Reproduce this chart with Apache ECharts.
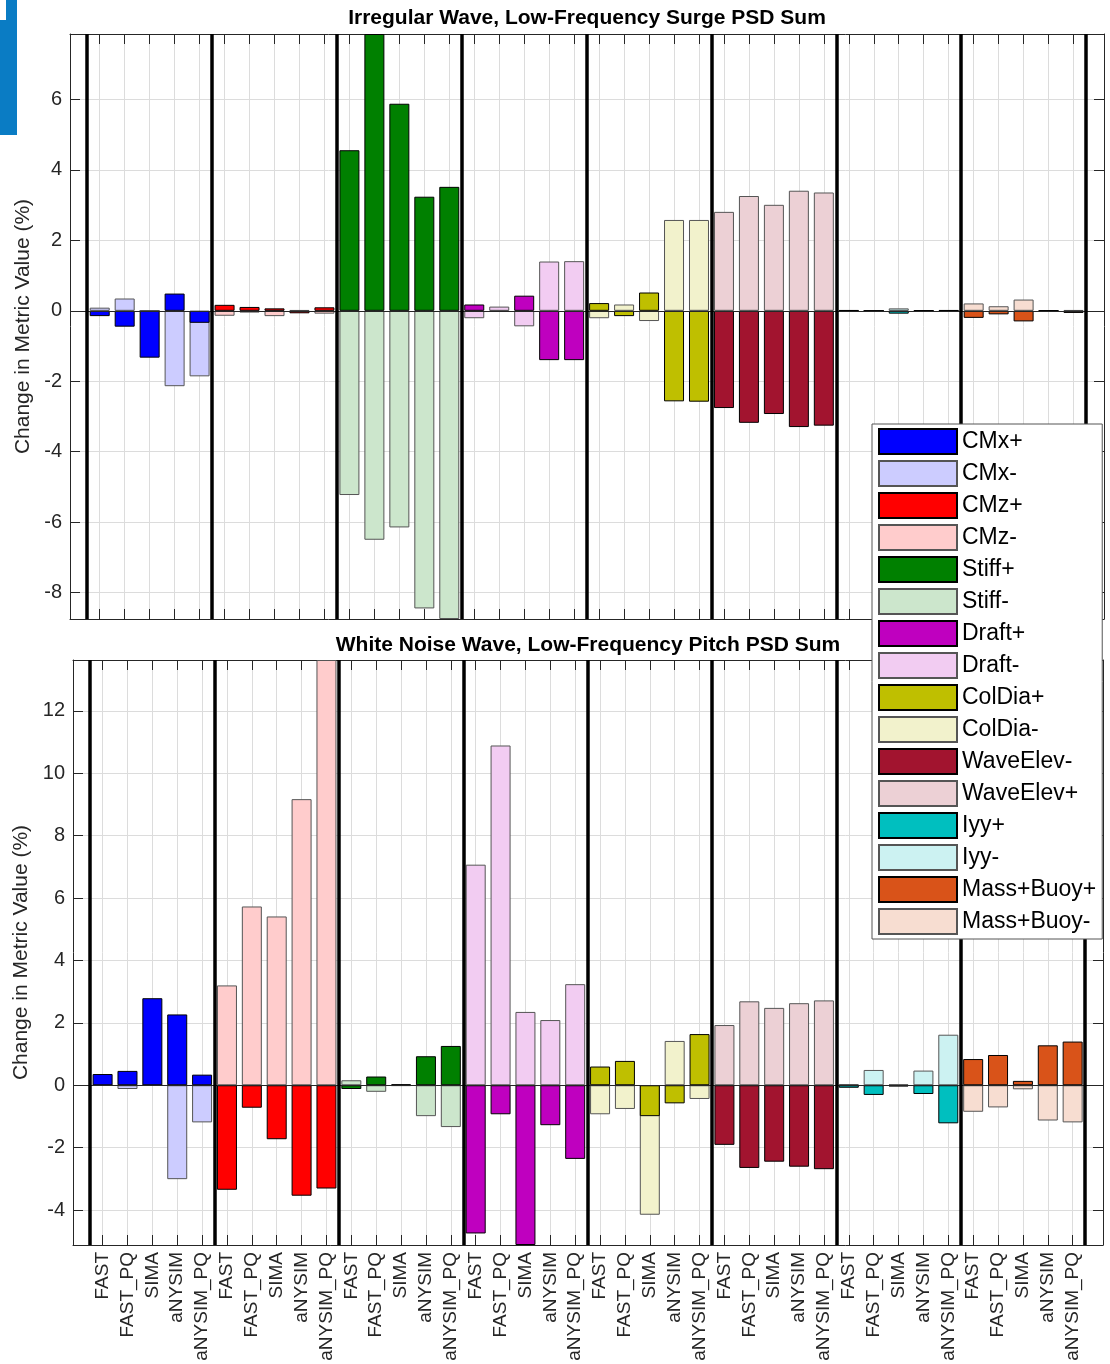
<!DOCTYPE html>
<html>
<head>
<meta charset="utf-8">
<script src="https://cdn.jsdelivr.net/npm/echarts@6/dist/echarts.min.js"></script>
<style>html,body{margin:0;padding:0;background:#fff}#c{width:1110px;height:1364px}</style>
</head>
<body>
<div id="c"></div>
<script>
// ---------- categories ----------
const tools = ['FAST', 'FAST_PQ', 'SIMA', 'aNYSIM', 'aNYSIM_PQ'];
const groups = ['CMx', 'CMz', 'Stiff', 'Draft', 'ColDia', 'WaveElev', 'Iyy', 'Mass+Buoy'];
const solidNames = ['CMx+', 'CMz+', 'Stiff+', 'Draft+', 'ColDia+', 'WaveElev-', 'Iyy+', 'Mass+Buoy+'];
const lightNames = ['CMx-', 'CMz-', 'Stiff-', 'Draft-', 'ColDia-', 'WaveElev+', 'Iyy-', 'Mass+Buoy-'];
const solidColors = ['#0000ff', '#ff0000', '#008000', '#bf00bf', '#bfbf00', '#a2142f', '#00bfbf', '#d95319'];
const lightColors = ['#ccccff', '#ffcccc', '#cce6cc', '#f2ccf2', '#f2f2cc', '#ecd0d5', '#ccf2f2', '#f7ddd1'];

// ---------- tick labels ----------
const surgeYTicks = [-8, -6, -4, -2, 0, 2, 4, 6];
const pitchYTicks = [-4, -2, 0, 2, 4, 6, 8, 10, 12];
const surgeYRange = [-8.75, 7.86];
const pitchYRange = [-5.12, 13.63];
const xRange = [-0.19, 41.22];

// ---------- top panel: Irregular Wave, Low-Frequency Surge PSD Sum ----------
const surgeCMxPlus       = [-0.15, -0.45, -1.33,  0.49, -0.34];
const surgeCMxMinus      = [ 0.09,  0.35,  0.00, -2.14, -1.86];
const surgeCMzPlus       = [ 0.17,  0.11,  0.07, -0.07,  0.10];
const surgeCMzMinus      = [-0.14, -0.05, -0.15,  0.02, -0.08];
const surgeStiffPlus     = [ 4.56,  7.86,  5.88,  3.24,  3.52];
const surgeStiffMinus    = [-5.23, -6.50, -6.15, -8.45, -8.75];
const surgeDraftPlus     = [ 0.18, -0.03,  0.43, -1.40, -1.40];
const surgeDraftMinus    = [-0.21,  0.12, -0.44,  1.40,  1.41];
const surgeColDiaPlus    = [ 0.22, -0.15,  0.52, -2.57, -2.58];
const surgeColDiaMinus   = [-0.21,  0.18, -0.29,  2.58,  2.58];
const surgeWaveElevMinus = [-2.76, -3.18, -2.93, -3.30, -3.26];
const surgeWaveElevPlus  = [ 2.81,  3.26,  3.01,  3.41,  3.36];
const surgeIyyPlus       = [ 0.02,  0.00, -0.08,  0.01,  0.02];
const surgeIyyMinus      = [-0.01,  0.00,  0.07, -0.01,  0.01];
const surgeMassBuoyPlus  = [-0.20, -0.10, -0.30,  0.01, -0.06];
const surgeMassBuoyMinus = [ 0.21,  0.13,  0.32, -0.01,  0.02];

// ---------- bottom panel: White Noise Wave, Low-Frequency Pitch PSD Sum ----------
const pitchCMxPlus       = [ 0.36,  0.46,  2.79,  2.27,  0.34];
const pitchCMxMinus      = [ 0.00, -0.12,  0.00, -3.01, -1.19];
const pitchCMzPlus       = [-3.35, -0.72, -1.73, -3.54, -3.31];
const pitchCMzMinus      = [ 3.20,  5.73,  5.41,  9.17, 13.63];
const pitchStiffPlus     = [-0.12,  0.28,  0.03,  0.93,  1.26];
const pitchStiffMinus    = [ 0.16, -0.21, -0.02, -0.99, -1.34];
const pitchDraftPlus     = [-4.75, -0.93, -5.12, -1.28, -2.36];
const pitchDraftMinus    = [ 7.07, 10.89,  2.35,  2.09,  3.24];
const pitchColDiaPlus    = [ 0.60,  0.78, -0.99, -0.58,  1.64];
const pitchColDiaMinus   = [-0.93, -0.76, -4.15,  1.42, -0.44];
const pitchWaveElevMinus = [-1.91, -2.65, -2.45, -2.61, -2.69];
const pitchWaveElevPlus  = [ 1.93,  2.69,  2.48,  2.63,  2.72];
const pitchIyyPlus       = [-0.08, -0.31, -0.04, -0.28, -1.22];
const pitchIyyMinus      = [ 0.04,  0.49,  0.03,  0.47,  1.62];
const pitchMassBuoyPlus  = [ 0.84,  0.97,  0.14,  1.28,  1.40];
const pitchMassBuoyMinus = [-0.85, -0.71, -0.13, -1.13, -1.19];

const surgeSolid = [surgeCMxPlus, surgeCMzPlus, surgeStiffPlus, surgeDraftPlus, surgeColDiaPlus, surgeWaveElevMinus, surgeIyyPlus, surgeMassBuoyPlus];
const surgeLight = [surgeCMxMinus, surgeCMzMinus, surgeStiffMinus, surgeDraftMinus, surgeColDiaMinus, surgeWaveElevPlus, surgeIyyMinus, surgeMassBuoyMinus];
const pitchSolid = [pitchCMxPlus, pitchCMzPlus, pitchStiffPlus, pitchDraftPlus, pitchColDiaPlus, pitchWaveElevMinus, pitchIyyPlus, pitchMassBuoyPlus];
const pitchLight = [pitchCMxMinus, pitchCMzMinus, pitchStiffMinus, pitchDraftMinus, pitchColDiaMinus, pitchWaveElevPlus, pitchIyyMinus, pitchMassBuoyMinus];

const legendOrder = [];
solidNames.forEach((n, i) => { legendOrder.push(n, lightNames[i]); });

// ---------- derived positions ----------
const catPositions = [];
groups.forEach((g, gi) => tools.forEach((t, ti) => catPositions.push(gi * tools.length + ti + 1)));
const separators = groups.map((g, gi) => gi * tools.length + 0.5).concat([groups.length * tools.length + 0.5]);

const FONT = '"Liberation Sans", Arial, Helvetica, sans-serif';
const AX = '#262626';

function xAx(gridIndex, position, showLabels) {
  return {
    type: 'value', gridIndex, position, min: xRange[0], max: xRange[1],
    axisLine: { show: true, onZero: false, lineStyle: { color: AX, width: 1 } },
    axisTick: { show: true, inside: true, length: 10, customValues: catPositions, lineStyle: { color: AX, width: 1 } },
    axisLabel: {
      show: showLabels, customValues: catPositions, rotate: 90, margin: 7,
      formatter: v => tools[(Math.round(v) - 1) % tools.length],
      fontSize: 19, color: AX, fontFamily: FONT
    },
    splitLine: { show: position === 'bottom', lineStyle: { color: '#dcdcdc', width: 1 } }
  };
}
function yAx(gridIndex, position, range, ticks, nameGap) {
  const left = position === 'left';
  return {
    type: 'value', gridIndex, position, min: range[0], max: range[1],
    name: left ? 'Change in Metric Value (%)' : '', nameLocation: 'middle', nameRotate: 90, nameGap,
    nameTextStyle: { fontSize: 21, color: AX, fontFamily: FONT },
    axisLine: { show: true, onZero: false, lineStyle: { color: AX, width: 1 } },
    axisTick: { show: true, inside: true, length: 10, customValues: ticks, lineStyle: { color: AX, width: 1 } },
    axisLabel: { show: left, customValues: ticks, margin: 8, fontSize: 20, color: AX, fontFamily: FONT },
    splitLine: { show: left, lineStyle: { color: '#dcdcdc', width: 1 } }
  };
}

function panelSeries(xi, yi, solid, light) {
  const out = [];
  light.forEach((arr, g) => {
    out.push({
      type: 'bar', name: lightNames[g], xAxisIndex: xi, yAxisIndex: yi,
      barWidth: 20, barGap: '-100%', z: 2, animation: false,
      itemStyle: { color: lightColors[g], borderColor: '#555', borderWidth: 1 },
      data: arr.map((v, i) => [g * tools.length + i + 1, v])
    });
  });
  solid.forEach((arr, g) => {
    out.push({
      type: 'bar', name: solidNames[g], xAxisIndex: xi, yAxisIndex: yi,
      barWidth: 20, barGap: '-100%', z: 3, animation: false,
      itemStyle: { color: solidColors[g], borderColor: '#000', borderWidth: 1 },
      data: arr.map((v, i) => [g * tools.length + i + 1, v])
    });
  });
  out.push({
    type: 'line', xAxisIndex: xi, yAxisIndex: yi, data: [], z: 5, silent: true, animation: false,
    markLine: {
      symbol: 'none', silent: true, animation: false, label: { show: false },
      data: [{ yAxis: 0, lineStyle: { color: AX, width: 1.2, type: 'solid' } }].concat(
        separators.map(s => ({ xAxis: s, lineStyle: { color: '#000', width: 3.5, type: 'solid' } })))
    }
  });
  return out;
}

const chart = echarts.init(document.getElementById('c'), null, { renderer: 'canvas' });
chart.setOption({
  animation: false,
  backgroundColor: '#fff',
  textStyle: { fontFamily: FONT },
  graphic: [
    { type: 'rect', left: 0, top: 0, shape: { width: 17, height: 135 }, style: { fill: '#0a7cc4' }, silent: true },
    { type: 'rect', left: 0, top: 0, shape: { width: 6, height: 20 }, style: { fill: '#ffffff' }, silent: true }
  ],
  title: [
    { text: 'Irregular Wave, Low-Frequency Surge PSD Sum', left: 587, top: 7, textAlign: 'center', padding: 0,
      textStyle: { fontSize: 21, fontWeight: 'bold', color: '#000', fontFamily: FONT, lineHeight: 22 } },
    { text: 'White Noise Wave, Low-Frequency Pitch PSD Sum', left: 588, top: 634, textAlign: 'center', padding: 0,
      textStyle: { fontSize: 21, fontWeight: 'bold', color: '#000', fontFamily: FONT, lineHeight: 22 } }
  ],
  grid: [
    { left: 70, top: 34, width: 1034, height: 585, outerBoundsMode: 'none', containLabel: false },
    { left: 73, top: 660, width: 1030, height: 585, outerBoundsMode: 'none', containLabel: false }
  ],
  xAxis: [xAx(0, 'bottom', false), xAx(0, 'top', false), xAx(1, 'bottom', true), xAx(1, 'top', false)],
  yAxis: [yAx(0, 'left', surgeYRange, surgeYTicks, 32), yAx(0, 'right', surgeYRange, surgeYTicks, 0),
          yAx(1, 'left', pitchYRange, pitchYTicks, 35), yAx(1, 'right', pitchYRange, pitchYTicks, 0)],
  legend: {
    data: legendOrder, orient: 'vertical', left: 872, top: 424, z: 20,
    icon: 'rect', itemWidth: 78, itemHeight: 25, itemGap: 5,
    padding: [4, 6, 4, 6], backgroundColor: '#fff', borderColor: '#555', borderWidth: 1, borderRadius: 0,
    textStyle: { fontSize: 23, color: '#000', fontFamily: FONT, lineHeight: 25 },
    selectedMode: false
  },
  series: panelSeries(0, 0, surgeSolid, surgeLight).concat(panelSeries(2, 2, pitchSolid, pitchLight))
});
</script>
</body>
</html>
